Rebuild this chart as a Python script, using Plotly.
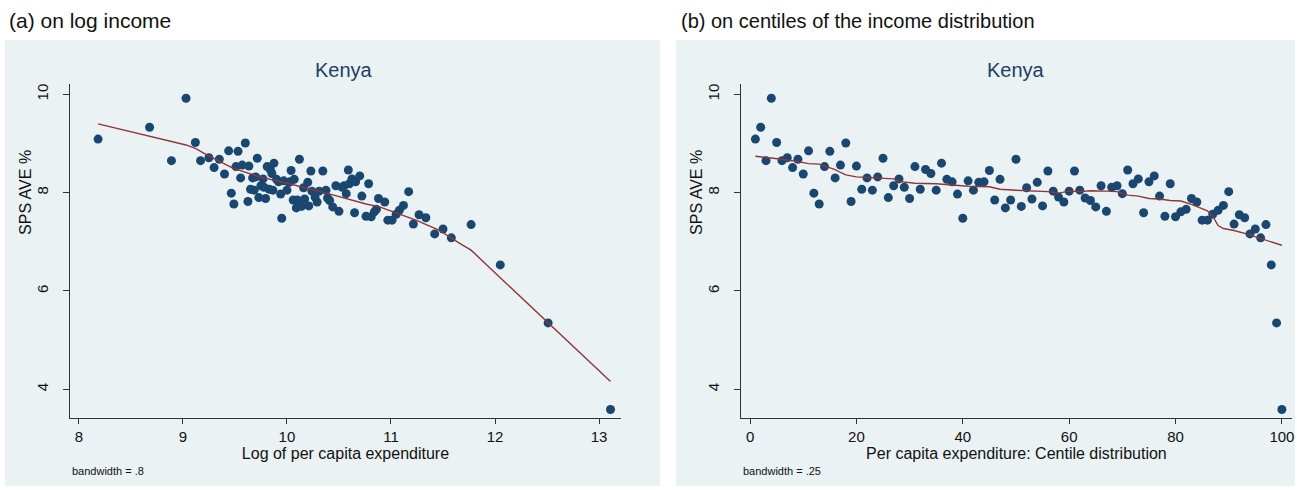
import plotly.graph_objects as go

W, H = 1297, 490

# ---------------- data ----------------
centile = list(range(1, 101))

sps_ave = [9.09, 9.33, 8.65, 9.92, 9.02, 8.65, 8.71, 8.51, 8.68, 8.38,
           8.85, 7.99, 7.77, 8.53, 8.84, 8.30, 8.56, 9.01, 7.82, 8.54,
           8.07, 8.30, 8.05, 8.32, 8.70, 7.90, 8.14, 8.28, 8.11, 7.88,
           8.53, 8.07, 8.47, 8.39, 8.05, 8.60, 8.27, 8.22, 7.97, 7.48,
           8.24, 8.05, 8.21, 8.22, 8.45, 7.85, 8.27, 7.69, 7.85, 8.68,
           7.72, 8.10, 7.87, 8.21, 7.73, 8.44, 8.03, 7.91, 7.81, 8.03,
           8.44, 8.05, 7.89, 7.84, 7.71, 8.14, 7.62, 8.11, 8.14, 7.98,
           8.46, 8.18, 8.28, 7.59, 8.22, 8.34, 7.93, 7.52, 8.18, 7.51,
           7.61, 7.66, 7.88, 7.81, 7.44, 7.44, 7.56, 7.64, 7.74, 8.02,
           7.36, 7.55, 7.49, 7.16, 7.26, 7.08, 7.35, 6.53, 5.35, 3.59]

log_exp = [8.185, 8.68, 8.89, 9.03, 9.12, 9.17, 9.25, 9.30, 9.35, 9.40,
           9.44, 9.465, 9.49, 9.51, 9.53, 9.555, 9.57, 9.60, 9.625, 9.635,
           9.65, 9.67, 9.685, 9.70, 9.715, 9.73, 9.75, 9.77, 9.78, 9.795,
           9.81, 9.83, 9.84, 9.855, 9.865, 9.875, 9.90, 9.92, 9.94, 9.95,
           9.97, 10.00, 10.02, 10.03, 10.04, 10.06, 10.07, 10.09, 10.10, 10.12,
           10.14, 10.16, 10.17, 10.20, 10.21, 10.23, 10.24, 10.27, 10.29, 10.31,
           10.345, 10.375, 10.39, 10.41, 10.44, 10.47, 10.50, 10.53, 10.55, 10.57,
           10.59, 10.60, 10.625, 10.65, 10.66, 10.70, 10.72, 10.76, 10.785, 10.81,
           10.84, 10.86, 10.88, 10.94, 10.97, 11.01, 11.05, 11.08, 11.12, 11.17,
           11.215, 11.27, 11.335, 11.42, 11.50, 11.58, 11.77, 12.05, 12.51, 13.11]

# lowess smooth, panel (a), bandwidth .8
lowess_a_x = [8.185, 8.68, 9.03, 9.12, 9.23, 9.48, 9.74, 10.06, 10.38, 10.76,
              10.89, 11.24, 11.46, 11.66, 11.77, 12.05, 12.51, 13.11]
lowess_a_y = [9.40, 9.14, 8.97, 8.90, 8.77, 8.50, 8.32, 8.16, 7.99, 7.77,
              7.71, 7.44, 7.24, 6.97, 6.83, 6.27, 5.36, 4.16]

# lowess smooth, panel (b), bandwidth .25
lowess_b_x = [1, 3, 6, 9, 11, 13, 14, 16, 17, 18, 20, 22, 24, 27, 28, 30, 31, 35,
              38, 41, 45, 47, 50, 53, 56, 58, 60, 62, 64, 67, 69, 71, 73, 75, 77,
              79, 81, 83, 85, 86, 87, 88, 89, 91, 93, 95, 97, 100]
lowess_b_y = [8.74, 8.72, 8.68, 8.63, 8.59, 8.58, 8.54, 8.47, 8.41, 8.36, 8.32,
              8.31, 8.29, 8.28, 8.23, 8.21, 8.19, 8.18, 8.15, 8.13, 8.12, 8.07,
              8.05, 8.03, 8.02, 7.99, 8.03, 8.02, 8.04, 8.03, 8.02, 7.95, 7.93,
              7.88, 7.87, 7.84, 7.83, 7.76, 7.68, 7.63, 7.52, 7.33, 7.27, 7.23,
              7.17, 7.10, 7.04, 6.93]

x_ticks_a = [8, 9, 10, 11, 12, 13]
x_ticks_b = [0, 20, 40, 60, 80, 100]
y_ticks = [4, 6, 8, 10]

# ---------------- style ----------------
BG = "#EAF2F3"
DOT = "#1A476F"
LINE = "#90353B"
FONT = "Liberation Sans, Arial, Helvetica, sans-serif"
TXT = "#111111"

def fx(px):
    return px / W

def fy(py):
    return 1 - py / H

fig = go.Figure()

fig.add_trace(go.Scatter(x=log_exp, y=sps_ave, mode="markers",
                         marker=dict(color=DOT, size=9, line=dict(width=0)),
                         xaxis="x", yaxis="y", showlegend=False))
fig.add_trace(go.Scatter(x=lowess_a_x, y=lowess_a_y, mode="lines",
                         line=dict(color=LINE, width=1.4),
                         xaxis="x", yaxis="y", showlegend=False))
fig.add_trace(go.Scatter(x=centile, y=sps_ave, mode="markers",
                         marker=dict(color=DOT, size=9, line=dict(width=0)),
                         xaxis="x2", yaxis="y2", showlegend=False))
fig.add_trace(go.Scatter(x=lowess_b_x, y=lowess_b_y, mode="lines",
                         line=dict(color=LINE, width=1.4),
                         xaxis="x2", yaxis="y2", showlegend=False))

common_x = dict(ticks="outside", ticklen=5, tickcolor="#333333", tickwidth=1,
                showline=True, linecolor="#333333", linewidth=1,
                showgrid=False, zeroline=False,
                tickfont=dict(family=FONT, size=15, color=TXT))
common_y = dict(ticks="outside", ticklen=6, tickcolor="#333333", tickwidth=1,
                showline=True, linecolor="#333333", linewidth=1,
                showgrid=True, gridcolor=BG, gridwidth=1.5, zeroline=False,
                tickangle=-90, tickvals=y_ticks, ticklabelstandoff=9,
                tickfont=dict(family=FONT, size=15, color=TXT))

ytitle_font = dict(family=FONT, size=16, color=TXT)
xtitle_font = dict(family=FONT, size=16, color=TXT)

fig.update_layout(
    width=W, height=H,
    margin=dict(l=0, r=0, t=0, b=0),
    paper_bgcolor="white",
    plot_bgcolor="white",
    font=dict(family=FONT, color=TXT),
    xaxis=dict(domain=[fx(70), fx(622)], range=[7.914, 13.211], tickvals=x_ticks_a,
               anchor="y",
               title=dict(text="Log of per capita expenditure", standoff=0, font=xtitle_font),
               **common_x),
    yaxis=dict(domain=[fy(418), fy(84)], range=[3.416, 10.21], anchor="x", **common_y),
    xaxis2=dict(domain=[fx(742), fx(1294)], range=[-1.73, 101.9], tickvals=x_ticks_b,
                anchor="y2",
                title=dict(text="Per capita expenditure: Centile distribution", standoff=0,
                           font=xtitle_font),
                **common_x),
    yaxis2=dict(domain=[fy(418), fy(84)], range=[3.416, 10.21], anchor="x2", **common_y),
    shapes=[
        dict(type="rect", xref="paper", yref="paper", layer="below",
             x0=fx(5), x1=fx(661), y0=fy(486), y1=fy(40),
             fillcolor=BG, line=dict(width=0)),
        dict(type="rect", xref="paper", yref="paper", layer="below",
             x0=fx(677), x1=1.0, y0=fy(486), y1=fy(40),
             fillcolor=BG, line=dict(width=0)),
    ],
    annotations=[
        dict(text="(a) on log income", xref="paper", yref="paper",
             x=fx(7), y=fy(21), xanchor="left", yanchor="middle", showarrow=False,
             font=dict(family=FONT, size=21, color=TXT)),
        dict(text="(b) on centiles of the income distribution", xref="paper", yref="paper",
             x=fx(680), y=fy(21), xanchor="left", yanchor="middle", showarrow=False,
             font=dict(family=FONT, size=20, color=TXT)),
        dict(text="Kenya", xref="paper", yref="paper",
             x=fx(345), y=fy(70), xanchor="center", yanchor="middle", showarrow=False,
             font=dict(family=FONT, size=20, color="#1E3D66")),
        dict(text="Kenya", xref="paper", yref="paper",
             x=fx(1018), y=fy(70), xanchor="center", yanchor="middle", showarrow=False,
             font=dict(family=FONT, size=20, color="#1E3D66")),
        dict(text="SPS AVE %", xref="paper", yref="paper", textangle=-90,
             x=fx(25), y=fy(192), xanchor="center", yanchor="middle", showarrow=False,
             font=ytitle_font),
        dict(text="SPS AVE %", xref="paper", yref="paper", textangle=-90,
             x=fx(697), y=fy(192), xanchor="center", yanchor="middle", showarrow=False,
             font=ytitle_font),
        dict(text="bandwidth = .8", xref="paper", yref="paper",
             x=fx(70), y=fy(471), xanchor="left", yanchor="middle", showarrow=False,
             font=dict(family=FONT, size=11, color=TXT)),
        dict(text="bandwidth = .25", xref="paper", yref="paper",
             x=fx(742), y=fy(471), xanchor="left", yanchor="middle", showarrow=False,
             font=dict(family=FONT, size=11, color=TXT)),
    ],
)

fig.write_html("out.html",
               config={"displayModeBar": False},
               post_script="document.body.style.margin='0px';"
                           "document.body.style.overflow='hidden';")
